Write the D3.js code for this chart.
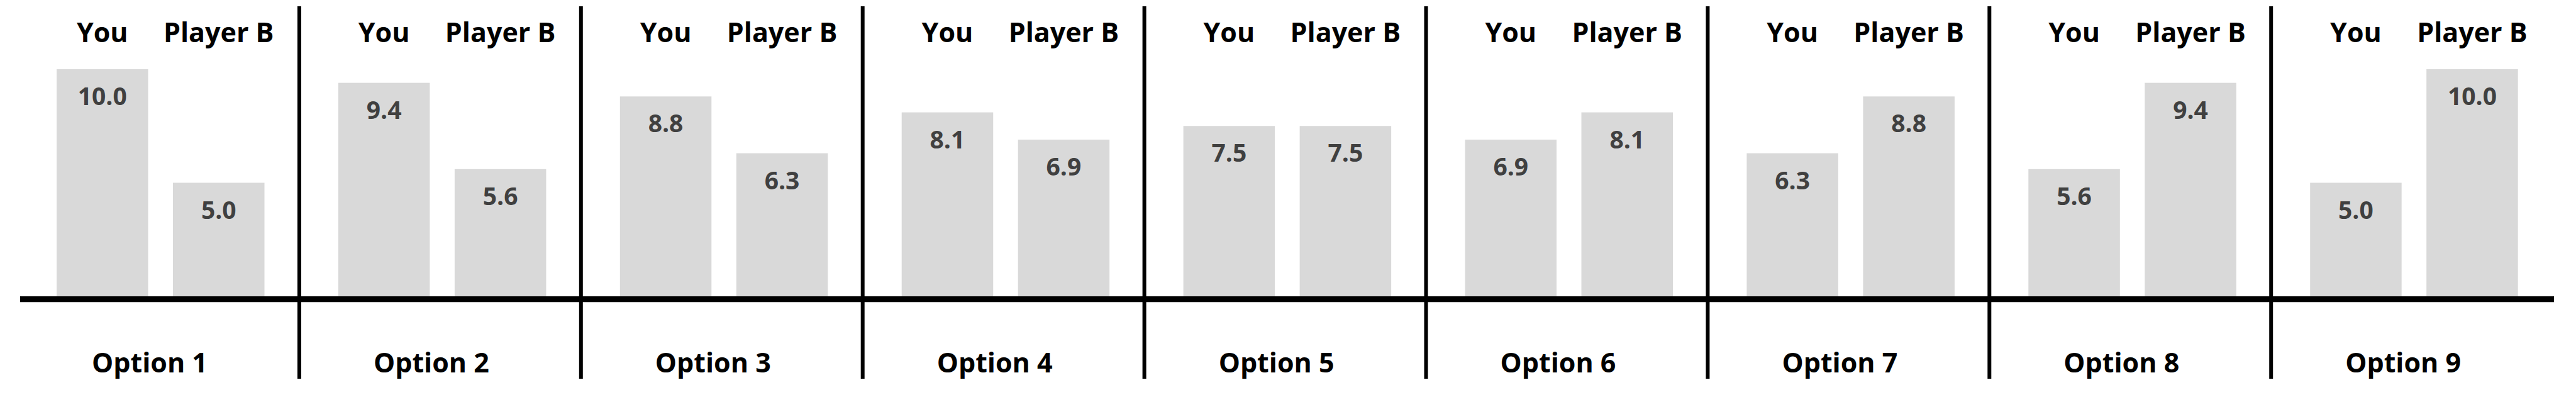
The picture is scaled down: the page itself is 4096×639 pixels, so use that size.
<!DOCTYPE html>
<html>
<head>
<meta charset="utf-8">
<script src="https://cdn.jsdelivr.net/npm/d3@7"></script>
<style>
  html, body { margin: 0; padding: 0; background: #fff; }
  svg { display: block; }
  text { font-family: "Open Sans", "Noto Sans", sans-serif; font-weight: 700; }
</style>
</head>
<body>
<script>
const options = ["Option 1","Option 2","Option 3","Option 4","Option 5","Option 6","Option 7","Option 8","Option 9"];
const players = ["You", "Player B"];
const youValues = [10.0, 9.4, 8.8, 8.1, 7.5, 6.9, 6.3, 5.6, 5.0];
const playerBValues = [5.0, 5.6, 6.3, 6.9, 7.5, 8.1, 8.8, 9.4, 10.0];

const W = 4096, H = 639;
const svg = d3.select("body").append("svg").attr("width", W).attr("height", H);

const panelW = 447.9;
const x0 = 28;
const xPanel = d3.scaleBand().domain(options).range([x0, x0 + panelW * options.length]).padding(0);
const xInner = d3.scaleBand().domain(players).range([62, 392.5]).paddingInner(0.2135).paddingOuter(0);
const y = d3.scaleLinear().domain([0, 10]).range([471, 110]);

const data = options.map((o, i) => ({ option: o, values: [
  { player: "You", value: youValues[i] },
  { player: "Player B", value: playerBValues[i] }
]}));

const g = svg.selectAll("g.panel").data(data).join("g")
  .attr("class", "panel")
  .attr("transform", d => `translate(${xPanel(d.option)},0)`);

g.selectAll("rect").data(d => d.values).join("rect")
  .attr("x", d => xInner(d.player))
  .attr("width", xInner.bandwidth())
  .attr("y", d => y(d.value))
  .attr("height", d => y(0) - y(d.value))
  .attr("fill", "#d9d9d9");

g.selectAll("text.val").data(d => d.values).join("text")
  .attr("class", "val")
  .attr("x", d => xInner(d.player) + xInner.bandwidth() / 2)
  .attr("y", d => y(d.value) + 57)
  .attr("text-anchor", "middle")
  .attr("font-size", 39)
  .attr("fill", "#404040")
  .text(d => d.value.toFixed(1));

g.selectAll("text.hdr").data(players).join("text")
  .attr("class", "hdr")
  .attr("x", p => xInner(p) + xInner.bandwidth() / 2)
  .attr("y", 67)
  .attr("text-anchor", "middle")
  .attr("font-size", 43)
  .attr("fill", "#000")
  .text(p => p);

g.append("text")
  .attr("class", "opt")
  .attr("x", 210)
  .attr("y", 592)
  .attr("text-anchor", "middle")
  .attr("font-size", 43)
  .attr("fill", "#000")
  .text(d => d.option);

// baseline axis
svg.append("line")
  .attr("x1", 32).attr("x2", 4061)
  .attr("y1", y(0) + 4.6).attr("y2", y(0) + 4.6)
  .attr("stroke", "#000").attr("stroke-width", 9.3);

// dividers
svg.selectAll("line.div").data(options.slice(1)).join("line")
  .attr("class", "div")
  .attr("x1", d => xPanel(d)).attr("x2", d => xPanel(d))
  .attr("y1", 10).attr("y2", 602)
  .attr("stroke", "#000").attr("stroke-width", 6);
</script>
</body>
</html>
